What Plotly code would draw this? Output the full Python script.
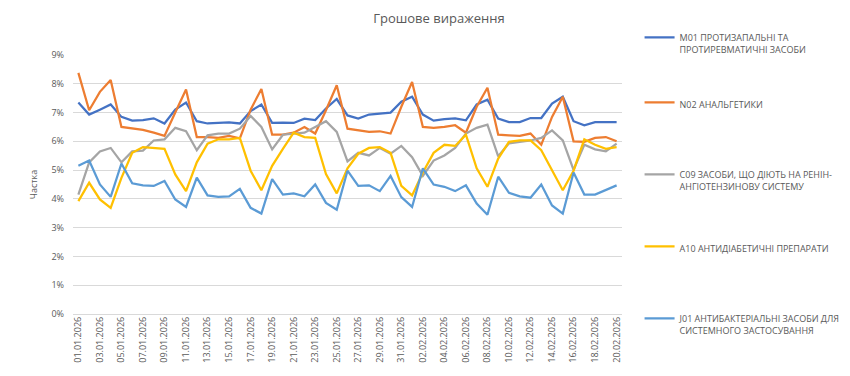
import plotly.graph_objects as go

dates = [
    "01.01.2026", "02.01.2026", "03.01.2026", "04.01.2026", "05.01.2026", "06.01.2026",
    "07.01.2026", "08.01.2026", "09.01.2026", "10.01.2026", "11.01.2026", "12.01.2026",
    "13.01.2026", "14.01.2026", "15.01.2026", "16.01.2026", "17.01.2026", "18.01.2026",
    "19.01.2026", "20.01.2026", "21.01.2026", "22.01.2026", "23.01.2026", "24.01.2026",
    "25.01.2026", "26.01.2026", "27.01.2026", "28.01.2026", "29.01.2026", "30.01.2026",
    "31.01.2026", "01.02.2026", "02.02.2026", "03.02.2026", "04.02.2026", "05.02.2026",
    "06.02.2026", "07.02.2026", "08.02.2026", "09.02.2026", "10.02.2026", "11.02.2026",
    "12.02.2026", "13.02.2026", "14.02.2026", "15.02.2026", "16.02.2026", "17.02.2026",
    "18.02.2026", "19.02.2026", "20.02.2026",
]

m01 = [7.35, 6.93, 7.10, 7.28, 6.85, 6.72, 6.74, 6.80, 6.62, 7.10,
       7.35, 6.70, 6.62, 6.64, 6.66, 6.62, 7.05, 7.28, 6.64, 6.65,
       6.64, 6.79, 6.74, 7.14, 7.47, 6.90, 6.79, 6.93, 6.97, 7.00,
       7.38, 7.55, 6.93, 6.72, 6.77, 6.80, 6.73, 7.28, 7.45, 6.79,
       6.67, 6.67, 6.81, 6.81, 7.31, 7.55, 6.70, 6.56, 6.67, 6.67, 6.67]

n02 = [8.38, 7.08, 7.72, 8.13, 6.50, 6.45, 6.40, 6.30, 6.19, 7.00,
       7.80, 6.15, 6.15, 6.12, 6.19, 6.10, 7.10, 7.82, 6.23, 6.23,
       6.30, 6.50, 6.27, 7.08, 7.95, 6.44, 6.38, 6.33, 6.35, 6.27,
       7.20, 8.06, 6.50, 6.47, 6.50, 6.56, 6.30, 7.20, 7.86, 6.23,
       6.21, 6.19, 6.27, 5.88, 6.85, 7.55, 6.00, 5.98, 6.12, 6.15, 6.00]

c09 = [4.15, 5.27, 5.65, 5.77, 5.27, 5.65, 5.68, 6.03, 6.07, 6.47,
       6.35, 5.69, 6.21, 6.27, 6.27, 6.44, 6.88, 6.50, 5.72, 6.23,
       6.27, 6.30, 6.50, 6.70, 6.33, 5.30, 5.60, 5.51, 5.77, 5.57,
       5.84, 5.45, 4.80, 5.33, 5.51, 5.77, 6.27, 6.47, 6.58, 5.48,
       5.93, 5.98, 6.03, 6.12, 6.38, 6.03, 5.01, 5.88, 5.72, 5.65, 5.92]

a10 = [3.92, 4.56, 3.98, 3.69, 4.73, 5.60, 5.80, 5.76, 5.74, 4.85,
       4.27, 5.27, 5.92, 6.07, 6.07, 6.12, 4.98, 4.30, 5.15, 5.74,
       6.30, 6.15, 6.12, 4.86, 4.19, 5.06, 5.57, 5.77, 5.80, 5.60,
       4.45, 4.12, 4.92, 5.60, 5.88, 5.84, 6.23, 5.06, 4.42, 5.40,
       5.98, 6.03, 6.03, 5.69, 4.98, 4.30, 4.98, 6.07, 5.88, 5.74, 5.80]

j01 = [5.15, 5.33, 4.50, 4.07, 5.23, 4.54, 4.47, 4.45, 4.62, 3.98,
       3.72, 4.74, 4.12, 4.07, 4.09, 4.35, 3.69, 3.49, 4.69, 4.15,
       4.19, 4.09, 4.50, 3.86, 3.62, 4.98, 4.45, 4.47, 4.27, 4.80,
       4.06, 3.72, 5.06, 4.50, 4.42, 4.27, 4.47, 3.84, 3.45, 4.77,
       4.21, 4.09, 4.04, 4.50, 3.77, 3.49, 4.92, 4.15, 4.15, 4.30, 4.47]

names = [
    "M01 ПРОТИЗАПАЛЬНІ ТА<br>ПРОТИРЕВМАТИЧНІ ЗАСОБИ",
    "N02 АНАЛЬГЕТИКИ",
    "C09 ЗАСОБИ, ЩО ДІЮТЬ НА РЕНІН-<br>АНГІОТЕНЗИНОВУ СИСТЕМУ",
    "A10 АНТИДІАБЕТИЧНІ ПРЕПАРАТИ",
    "J01 АНТИБАКТЕРІАЛЬНІ ЗАСОБИ ДЛЯ<br>СИСТЕМНОГО ЗАСТОСУВАННЯ",
]
values = [m01, n02, c09, a10, j01]
colors = ["#4472C4", "#ED7D31", "#A5A5A5", "#FFC000", "#5B9BD5"]
legend_ids = ["legend", "legend2", "legend3", "legend4", "legend5"]
legend_y = [1.116, 0.865, 0.587, 0.309, 0.031]

fig = go.Figure()
for name, vals, color, lid in zip(names, values, colors, legend_ids):
    fig.add_trace(go.Scatter(
        x=dates, y=vals, mode="lines", name=name,
        line=dict(color=color, width=2.25),
        legend=lid,
    ))

legend_style = dict(x=1.032, xanchor="left", yanchor="top", valign="top",
                    font=dict(size=9, color="#595959"), bgcolor="rgba(0,0,0,0)")

fig.update_layout(
    width=850, height=376,
    margin=dict(l=65, r=233, t=47, b=70),
    paper_bgcolor="white", plot_bgcolor="white",
    font=dict(family="Open Sans, Liberation Sans, sans-serif", color="#595959"),
    title=dict(text="Грошове вираження", x=0.507, xref="container", xanchor="center",
               y=0.973, yref="container", yanchor="middle",
               font=dict(size=13, color="#595959")),
    showlegend=True,
    **{lid: dict(y=ly, **legend_style) for lid, ly in zip(legend_ids, legend_y)},
)
fig.update_xaxes(
    type="category", range=[-0.5, len(dates) - 0.5],
    tickmode="array", tickvals=dates[::2], ticktext=dates[::2],
    tickangle=-90, tickfont=dict(size=9, color="#595959"),
    showgrid=False, showline=False, ticks="", zeroline=False,
)
fig.update_yaxes(
    range=[0, 9], dtick=1, ticksuffix="%",
    tickfont=dict(size=9, color="#595959"),
    gridcolor="#D9D9D9", gridwidth=1,
    zeroline=True, zerolinecolor="#D9D9D9", zerolinewidth=1,
    showline=False, ticks="", ticklabelstandoff=8,
    title=dict(text="Частка", font=dict(size=9, color="#595959"), standoff=12),
)

fig.write_html("out.html")
